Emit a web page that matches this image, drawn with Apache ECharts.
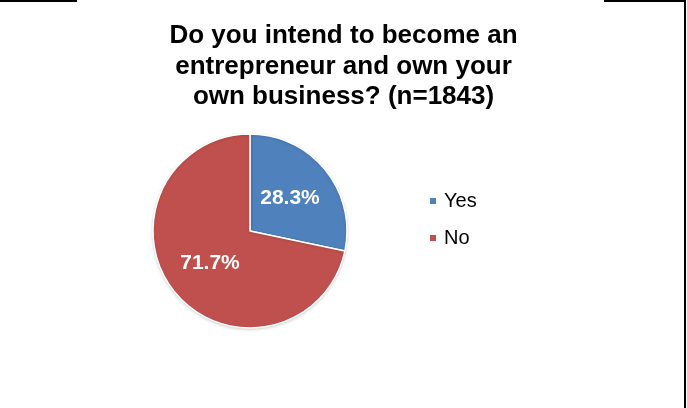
<!DOCTYPE html>
<html>
<head>
<meta charset="utf-8">
<script src="https://cdn.jsdelivr.net/npm/echarts@6/dist/echarts.min.js"></script>
<style>
  html, body { margin: 0; padding: 0; background: #fff; }
  #PieChart { width: 687px; height: 408px; }
</style>
</head>
<body>
<div id="PieChart"></div>
<script>
const categories = ['Yes', 'No']
const shares = [28.3, 71.7]
const colors = ['#4F81BD', '#C0504D']

const chart = echarts.init(document.getElementById('PieChart'))
const option = {
  backgroundColor: '#fff',
  title: {
    text: 'Do you intend to become an\nentrepreneur and own your\nown business? (n=1843)',
    left: 'center',
    top: 21,
    padding: 0,
    textStyle: {
      fontFamily: 'Liberation Sans',
      fontWeight: 'bold',
      fontSize: 26,
      lineHeight: 30.5,
      color: '#000'
    }
  },
  legend: {
    orient: 'vertical',
    left: 428,
    top: 191,
    padding: 0,
    itemGap: 17,
    itemWidth: 8,
    itemHeight: 8,
    icon: 'rect',
    data: categories,
    textStyle: {
      fontFamily: 'Liberation Sans',
      fontSize: 20,
      color: '#000',
      padding: [0, 0, 0, 2]
    }
  },
  graphic: [
    { type: 'line', shape: { x1: 0, y1: 1, x2: 77, y2: 1 }, style: { stroke: '#000', lineWidth: 2 } },
    { type: 'line', shape: { x1: 604, y1: 1, x2: 686, y2: 1 }, style: { stroke: '#000', lineWidth: 2 } },
    { type: 'line', shape: { x1: 685, y1: 0, x2: 685, y2: 408 }, style: { stroke: '#000', lineWidth: 2 } }
  ],
  series: [
    {
      type: 'pie',
      center: [250, 231],
      radius: 97,
      startAngle: 90,
      clockwise: true,
      animation: false,
      data: categories.map((c, i) => ({
        name: c,
        value: shares[i],
        itemStyle: { color: colors[i] }
      })),
      itemStyle: {
        borderColor: '#fff',
        borderWidth: 1.5,
        shadowColor: 'rgba(0,0,0,0.15)',
        shadowBlur: 3,
        shadowOffsetY: 1
      },
      label: {
        show: true,
        position: 'inside',
        formatter: p => p.value.toFixed(1) + '%',
        fontFamily: 'Liberation Sans',
        fontWeight: 'bold',
        fontSize: 21,
        color: '#fff'
      },
      labelLine: { show: false },
      emphasis: { disabled: true }
    }
  ]
}
chart.setOption(option)
</script>
</body>
</html>
